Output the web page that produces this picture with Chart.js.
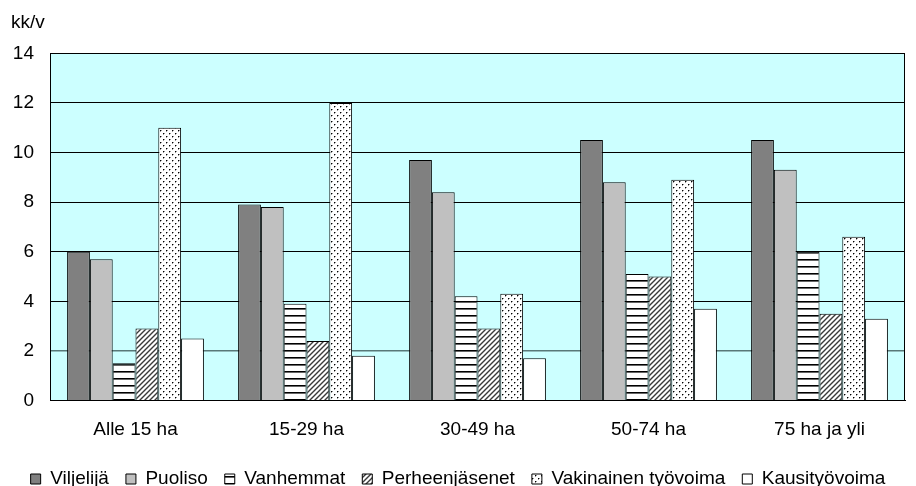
<!DOCTYPE html>
<html>
<head>
<meta charset="utf-8">
<script src="https://cdn.jsdelivr.net/npm/chart.js@4.4.0/dist/chart.umd.min.js"></script>
<style>
	html, body { margin: 0; padding: 0; background: #fff; }
</style>
</head>
<body>
<canvas id="chart" width="916" height="486"></canvas>
<script>
const categories = ['Alle 15 ha', '15-29 ha', '30-49 ha', '50-74 ha', '75 ha ja yli'];
const viljelija = [6.0, 7.9, 9.7, 10.5, 10.5];
const puoliso = [5.7, 7.8, 8.4, 8.8, 9.3];
const vanhemmat = [1.5, 3.9, 4.2, 5.1, 6.0];
const perheenjasenet = [2.9, 2.4, 2.9, 5.0, 3.5];
const vakinainen = [11.0, 12.0, 4.3, 8.9, 6.6];
const kausi = [2.5, 1.8, 1.7, 3.7, 3.3];
const yTicks = [0, 2, 4, 6, 8, 10, 12, 14];

const fontFamily = '"Liberation Sans", Arial, sans-serif';
const ctx = document.getElementById('chart').getContext('2d');

function makePattern(w, h, draw) {
	const c = document.createElement('canvas');
	c.width = w;
	c.height = h;
	const g = c.getContext('2d');
	g.fillStyle = '#fff';
	g.fillRect(0, 0, w, h);
	draw(g);
	return ctx.createPattern(c, 'repeat');
}

// horizontal stripes
const stripes = makePattern(4, 7, function(g){
	g.fillStyle = '#000';
	g.fillRect(0, 0, 4, 1);
	g.fillStyle = '#666';
	g.fillRect(0, 1, 4, 1);
});

// diagonal hatching
const hatch = makePattern(5, 5, function(g){
	g.strokeStyle = '#3a3a3a';
	g.lineWidth = 1.4;
	g.beginPath();
	g.moveTo(-1, 6); g.lineTo(6, -1);
	g.moveTo(-1, 1); g.lineTo(1, -1);
	g.moveTo(4, 6); g.lineTo(6, 4);
	g.stroke();
});

// dots
const dots = makePattern(6, 6, function(g){
	[[1, 1], [4, 4]].forEach(function(p){
		g.fillStyle = '#000';
		g.fillRect(p[0], p[1], 1, 1);
		g.fillStyle = '#999';
		g.fillRect(p[0] + 1, p[1], 1, 1);
		g.fillRect(p[0], p[1] + 1, 1, 1);
	});
});

const plotFrame = {
	id: 'plotFrame',
	beforeDraw(chart) {
		const a = chart.chartArea;
		const c = chart.ctx;
		c.save();
		c.fillStyle = '#ccffff';
		c.fillRect(a.left, a.top, a.right - a.left, a.bottom - a.top);
		c.restore();
	},
	afterDatasetsDraw(chart) {
		const a = chart.chartArea;
		const c = chart.ctx;
		c.save();
		c.strokeStyle = '#000';
		c.lineWidth = 1;
		const l = Math.round(a.left) + 0.5, t = Math.round(a.top) + 0.5;
		const r = Math.round(a.right) - 0.5, b = Math.round(a.bottom) - 0.5;
		c.strokeRect(l, t, r - l, b - t);
		c.restore();
	}
};

function ds(label, data, fill) {
	return {
		label: label,
		data: data,
		backgroundColor: fill,
		borderColor: '#000',
		borderWidth: 1,
		borderSkipped: 'start',
		categoryPercentage: 0.8,
		barPercentage: 1.0
	};
}

new Chart(ctx, {
	type: 'bar',
	data: {
		labels: categories,
		datasets: [
			ds('Viljelijä', viljelija, '#808080'),
			ds('Puoliso', puoliso, '#c0c0c0'),
			ds('Vanhemmat', vanhemmat, stripes),
			ds('Perheenjäsenet', perheenjasenet, hatch),
			ds('Vakinainen työvoima', vakinainen, dots),
			ds('Kausityövoima', kausi, '#ffffff')
		]
	},
	options: {
		responsive: false,
		animation: false,
		layout: { padding: { left: 11, right: 11, top: 0, bottom: 0 } },
		plugins: {
			title: {
				display: true,
				text: 'kk/v',
				align: 'start',
				color: '#000',
				font: { family: fontFamily, size: 19, weight: 'normal' },
				padding: { top: 11, bottom: 19.5 }
			},
			legend: {
				position: 'bottom',
				maxHeight: 33.5,
				labels: {
					color: '#000',
					boxWidth: 10,
					boxHeight: 10,
					padding: 17,
					font: { family: fontFamily, size: 19 }
				}
			},
			tooltip: { enabled: false }
		},
		scales: {
			x: {
				grid: { display: false, drawTicks: false },
				border: { display: true, color: '#000', width: 1 },
				ticks: {
					color: '#000',
					padding: 18,
					font: { family: fontFamily, size: 19 }
				},
				afterFit: function(scale){ scale.height = 52; }
			},
			y: {
				min: 0,
				max: 14,
				afterBuildTicks: function(scale){
					scale.ticks = yTicks.map(function(v){ return { value: v }; });
				},
				grid: {
					color: function(c){ return c.tick && c.tick.value === 2 ? '#587878' : '#000'; },
					lineWidth: function(c){ return c.tick && c.tick.value === 2 ? 1.5 : 1; },
					drawTicks: false
				},
				border: { display: true, color: '#000', width: 1 },
				ticks: {
					color: '#000',
					padding: 16,
					font: { family: fontFamily, size: 19 }
				},
				afterFit: function(scale){ scale.width = 39; }
			}
		}
	},
	plugins: [plotFrame]
});
</script>
</body>
</html>
